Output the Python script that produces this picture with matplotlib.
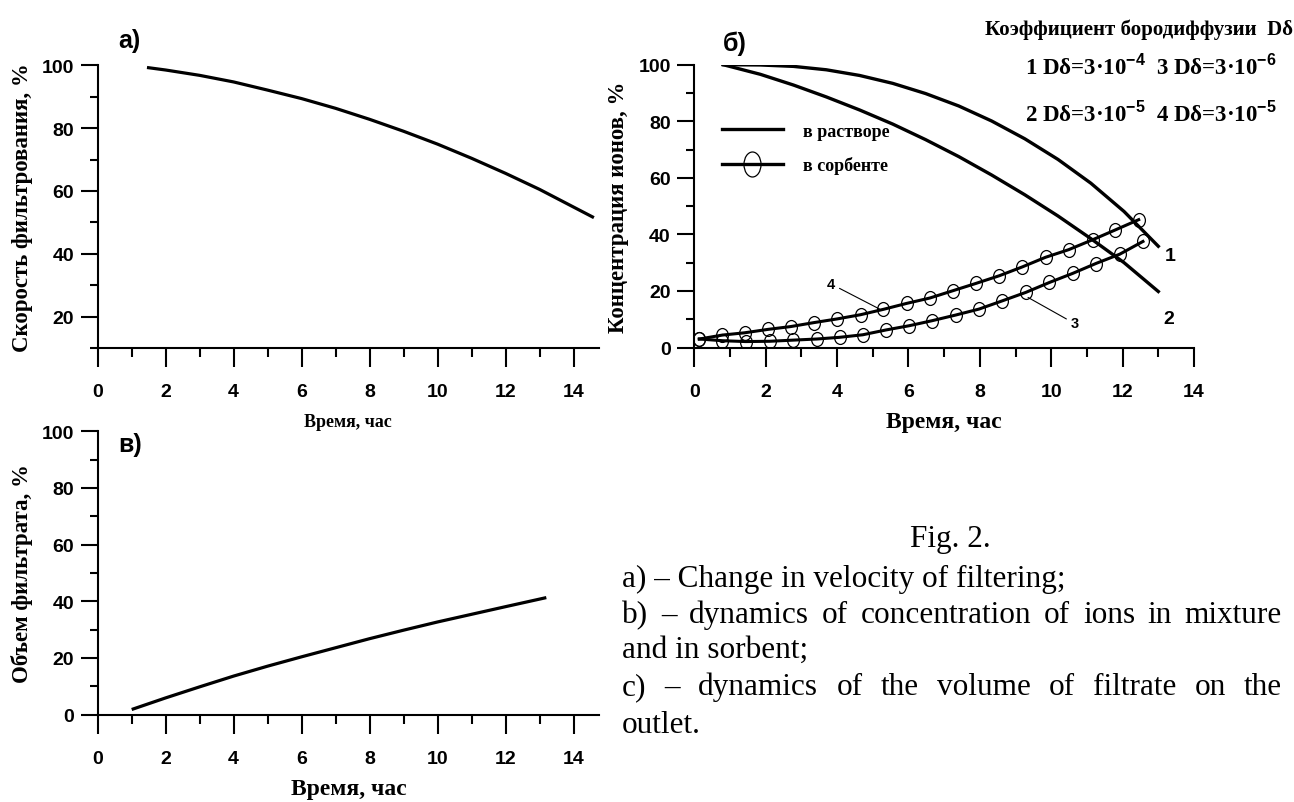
import matplotlib
matplotlib.use("Agg")
import matplotlib.pyplot as plt
from matplotlib.lines import Line2D
from matplotlib.path import Path
from matplotlib.transforms import Affine2D

plt.rcParams["font.family"] = ["Liberation Sans", "DejaVu Sans"]
plt.rcParams["font.weight"] = "bold"
plt.rcParams["axes.labelweight"] = "bold"
plt.rcParams["mathtext.fontset"] = "custom"
plt.rcParams["mathtext.rm"] = "Liberation Serif:bold"
plt.rcParams["mathtext.bf"] = "Liberation Sans:bold"

# --- данные ---
# а) скорость фильтрования
time_a = [1.45, 2, 3, 4, 5, 6, 7, 8, 9, 10, 11, 12, 13, 14.6]
speed_a = [99.3, 98.5, 96.8, 94.7, 92.1, 89.4, 86.3, 82.8, 79.0, 74.9, 70.4, 65.6, 60.5, 51.5]

# б) концентрация в растворе (кривые 1, 2)
time_sol = [0.81, 1.85, 2.78, 3.70, 4.63, 5.56, 6.48, 7.41, 8.33, 9.26, 10.19, 11.11, 12.04, 13.0]
conc_1 = [100, 99.9, 99.4, 98.2, 96.2, 93.4, 89.8, 85.4, 80.1, 73.8, 66.5, 58.1, 48.1, 35.8]
conc_2 = [100, 96.6, 92.8, 88.6, 84.0, 79.0, 73.5, 67.5, 61.0, 54.0, 46.5, 38.5, 30.0, 19.8]

# б) концентрация в сорбенте (кривые 3, 4)
time_4 = [0.14, 0.79, 1.41, 2.06, 2.70, 3.35, 4.00, 4.66, 5.30, 5.95,
          6.60, 7.25, 7.90, 8.55, 9.19, 9.84, 10.49, 11.16, 11.80, 12.45]
conc_4 = [3.0, 4.4, 5.2, 6.4, 7.4, 8.8, 10.1, 11.6, 13.5, 15.6,
          17.5, 20.1, 22.7, 25.4, 28.5, 31.9, 34.6, 38.1, 41.6, 45.2]
time_3 = [0.14, 0.79, 1.44, 2.11, 2.76, 3.43, 4.07, 4.72, 5.37, 6.02,
          6.67, 7.33, 7.98, 8.63, 9.29, 9.95, 10.60, 11.25, 11.92, 12.57]
conc_3 = [3.0, 2.4, 2.1, 2.2, 2.6, 3.0, 3.6, 4.5, 6.2, 7.7,
          9.5, 11.5, 13.6, 16.5, 19.5, 23.0, 26.2, 29.7, 33.0, 37.5]

# в) объем фильтрата
time_c = [1.0, 2, 3, 4, 5, 6, 7, 8, 9, 10, 11, 12, 13.2]
volume_c = [1.8, 5.9, 9.8, 13.6, 17.1, 20.4, 23.6, 26.8, 29.8, 32.7, 35.4, 38.1, 41.3]

W, H = 1294, 803
fig = plt.figure(figsize=(W / 100, H / 100), dpi=100)


def box(left, top, right, bottom):
    return [left / W, 1 - bottom / H, (right - left) / W, (bottom - top) / H]


def style(ax, xmax, ymin, xlabel, ylabel, xlsize):
    ax.set_xlim(0, xmax)
    ax.set_ylim(ymin, 100)
    for s in ("top", "right"):
        ax.spines[s].set_visible(False)
    for s in ("left", "bottom"):
        ax.spines[s].set_linewidth(1.5)
    ax.set_xticks(range(0, 15, 2))
    ax.set_xticks(range(1, 15, 2), minor=True)
    ax.set_yticks(range(20 if ymin > 0 else 0, 101, 20))
    ax.set_yticks(range(10, 100, 20), minor=True)
    ax.tick_params(axis="x", which="major", direction="out", length=13.5, width=1.5,
                   pad=12, labelsize=14)
    ax.tick_params(axis="x", which="minor", direction="out", length=6.5, width=1.5)
    ax.tick_params(axis="y", which="major", direction="out", length=12, width=1.5,
                   pad=5, labelsize=14)
    ax.tick_params(axis="y", which="minor", direction="out", length=6, width=1.5)
    ax.set_xlabel(xlabel, family="Liberation Serif", fontsize=xlsize, va="center")
    ax.xaxis.set_label_coords(0.5, -0.26)
    ax.set_ylabel(ylabel, family="Liberation Serif", fontsize=16.5, va="center")
    ax.yaxis.set_label_coords(-0.151, 0.5)


ax_a = fig.add_axes(box(97.7, 66.3, 599, 349))
ax_b = fig.add_axes(box(694.3, 65.7, 1194, 348.5))
ax_c = fig.add_axes(box(97.7, 432.3, 599, 715.6))

style(ax_a, 14.75, 10, "Время, час", "Скорость фильтрования, %", 13)
style(ax_b, 14, 0, "Время, час", "Концентрация ионов, %", 17)
style(ax_c, 14.75, 0, "Время, час", "Объем фильтрата, %", 17)

ax_a.plot(time_a, speed_a, color="black", lw=2.3, solid_capstyle="butt")
ax_c.plot(time_c, volume_c, color="black", lw=2.3, solid_capstyle="butt")

ellipse = Path.unit_circle().transformed(Affine2D().scale(0.85, 1.0))
ellipse_big = Path.unit_circle().transformed(Affine2D().scale(0.68, 1.0))

ax_b.plot(time_sol, conc_1, color="black", lw=2.4)
ax_b.plot(time_sol, conc_2, color="black", lw=2.4)
for t, c in ((time_4, conc_4), (time_3, conc_3)):
    ax_b.plot(t, c, color="black", lw=2.2, marker=ellipse, ms=10,
              mfc="none", mec="black", mew=0.9)

handles = [Line2D([], [], color="black", lw=2.4),
           Line2D([], [], color="black", lw=2.4, marker=ellipse_big, ms=18,
                  mfc="none", mec="black", mew=0.9)]
ax_b.legend(handles, ["в растворе", "в сорбенте"], loc="center left",
            bbox_to_anchor=(0.055, 0.704), frameon=False, borderpad=0,
            borderaxespad=0, handlelength=3.4, handletextpad=1.1, labelspacing=0.9,
            prop={"family": "Liberation Serif", "weight": "bold", "size": 13})

ax_b.annotate("4", xy=(5.19, 13.6), xytext=(3.84, 22.4), ha="center", va="center",
              fontsize=10.5, arrowprops=dict(arrowstyle="-", lw=0.8, color="black",
                                             shrinkA=1, shrinkB=0))
ax_b.annotate("3", xy=(9.35, 17.7), xytext=(10.65, 8.5), ha="center", va="center",
              fontsize=10.5, arrowprops=dict(arrowstyle="-", lw=0.8, color="black",
                                             shrinkA=1, shrinkB=0))
ax_b.text(13.33, 32.4, "1", ha="center", va="center", fontsize=14)
ax_b.text(13.29, 10.1, "2", ha="center", va="center", fontsize=14)

# подписи панелей
fig.text(118 / W, 1 - 48 / H, "а)", fontsize=18, va="baseline")
fig.text(723 / W, 1 - 51 / H, "б)", fontsize=18, va="baseline")
fig.text(118 / W, 1 - 452 / H, "в)", fontsize=18, va="baseline")

# коэффициенты
fig.text(985 / W, 1 - 35 / H, "Коэффициент бородиффузии  Dδ", family="Liberation Serif",
         fontsize=15, va="baseline")
fig.text(1025 / W, 1 - 75 / H,
         "1 Dδ=3·10$^{\\mathbf{-4}}$  3 Dδ=3·10$^{\\mathbf{-6}}$",
         family="Liberation Serif", fontsize=16.5, va="baseline")
fig.text(1025 / W, 1 - 122 / H,
         "2 Dδ=3·10$^{\\mathbf{-5}}$  4 Dδ=3·10$^{\\mathbf{-5}}$",
         family="Liberation Serif", fontsize=16.5, va="baseline")

# подпись к рисунку
cap = dict(family="Liberation Serif", fontweight="normal", fontsize=22.5, va="baseline")
renderer = fig.canvas.get_renderer()


def justified(text, x0, x1, y):
    words = text.split()
    arts = [fig.text(0, 1 - y / H, w, **cap) for w in words]
    widths = [a.get_window_extent(renderer).width for a in arts]
    gap = (x1 - x0 - sum(widths)) / (len(words) - 1)
    x = x0
    for a, w in zip(arts, widths):
        a.set_x(x / W)
        x += w + gap


fig.text(950 / W, 1 - 547 / H, "Fig. 2.", ha="center", **cap)
fig.text(622 / W, 1 - 587 / H, "a) – Change in velocity of filtering;", **cap)
justified("b) – dynamics of concentration of ions in mixture", 622, 1282, 623)
fig.text(622 / W, 1 - 658 / H, "and in sorbent;", **cap)
justified("c) – dynamics of the volume of filtrate on the", 622, 1282, 695)
fig.text(622 / W, 1 - 733 / H, "outlet.", **cap)

fig.savefig("out.png", dpi=100, facecolor="white")
